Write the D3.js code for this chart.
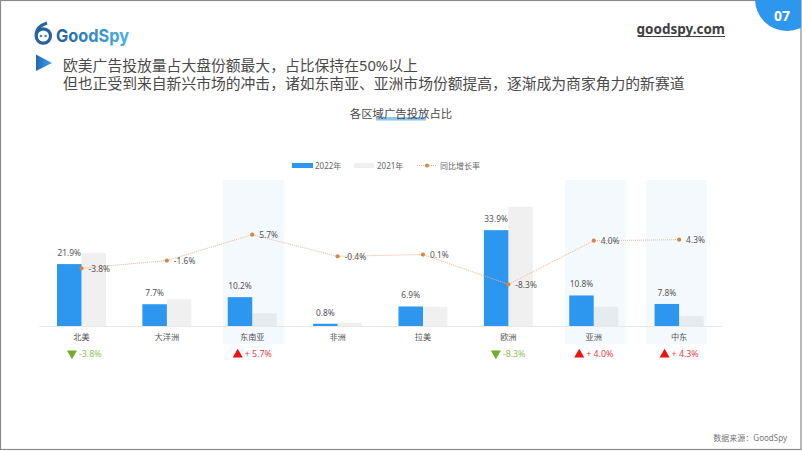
<!DOCTYPE html>
<html>
<head>
<meta charset="utf-8">
<script src="https://cdn.jsdelivr.net/npm/d3@7"></script>
<style>
html, body { margin: 0; padding: 0; background: #fff; }
svg { display: block; }
text { font-family: "Noto Sans", "Noto Sans CJK SC", sans-serif; }
</style>
</head>
<body>
<svg id="chart"></svg>
<script>
var categories = ['北美', '大洋洲', '东南亚', '非洲', '拉美', '欧洲', '亚洲', '中东'];
var values2022 = [21.9, 7.7, 10.2, 0.8, 6.9, 33.9, 10.8, 7.8];
var values2021 = [25.8, 9.5, 4.5, 1.2, 6.8, 42.2, 6.8, 3.5];
var growth = [-3.8, -1.6, 5.7, -0.4, 0.1, -8.3, 4.0, 4.3];
var highlighted = ['东南亚', '亚洲', '中东'];
var flagged = ['北美', '东南亚', '欧洲', '亚洲', '中东'];
var headline = ['欧美广告投放量占大盘份额最大，占比保持在50%以上', '但也正受到来自新兴市场的冲击，诸如东南亚、亚洲市场份额提高，逐渐成为商家角力的新赛道'];

var svgWidth = 802, svgHeight = 451;
var svg = d3.select('#chart').attr('width', svgWidth).attr('height', svgHeight);

var defs = svg.append('defs');
var logoGrad = defs.append('linearGradient').attr('id', 'logoGrad');
logoGrad.append('stop').attr('offset', '0%').attr('stop-color', '#22609f');
logoGrad.append('stop').attr('offset', '100%').attr('stop-color', '#45b4e6');
var playGrad = defs.append('linearGradient').attr('id', 'playGrad');
playGrad.append('stop').attr('offset', '0%').attr('stop-color', '#2068b4');
playGrad.append('stop').attr('offset', '100%').attr('stop-color', '#3ba4f0');

// page frame
svg.append('rect').attr('x', 0.5).attr('y', 0.5).attr('width', svgWidth - 1.5).attr('height', svgHeight - 2)
    .attr('fill', 'none').attr('stroke', '#8a8a8a').attr('stroke-width', 1.2);

// page number badge
svg.append('clipPath').attr('id', 'pageClip').append('rect').attr('width', svgWidth - 1).attr('height', svgHeight);
svg.append('circle').attr('cx', 787).attr('cy', -1).attr('r', 32).attr('fill', '#2d96ee').attr('clip-path', 'url(#pageClip)');
svg.append('text').attr('x', 782).attr('y', 21).attr('text-anchor', 'middle')
    .attr('font-size', 14).attr('font-weight', 700).attr('fill', '#fff').text('07');

// logo
var logo = svg.append('g');
logo.append('circle').attr('cx', 43.3).attr('cy', 36).attr('r', 7.2)
    .attr('fill', 'none').attr('stroke', '#24639f').attr('stroke-width', 3.2);
logo.append('path').attr('d', 'M36.2 34 C36.5 29 41 25 47 23')
    .attr('fill', 'none').attr('stroke', '#24639f').attr('stroke-width', 3.2);
logo.append('circle').attr('cx', 41).attr('cy', 36).attr('r', 1.3).attr('fill', '#3d8ac6');
logo.append('circle').attr('cx', 45.6).attr('cy', 36).attr('r', 1.3).attr('fill', '#3d8ac6');
logo.append('text').attr('x', 56).attr('y', 41.5).attr('font-size', 18).attr('font-weight', 700)
    .attr('textLength', 73).attr('lengthAdjust', 'spacingAndGlyphs')
    .attr('fill', 'url(#logoGrad)').style('font-family', 'Inter, "Noto Sans"').text('GoodSpy');

svg.append('text').attr('x', 725).attr('y', 34).attr('text-anchor', 'end')
    .attr('font-size', 13.5).attr('font-weight', 700).attr('fill', '#404040').text('goodspy.com');
svg.append('rect').attr('x', 638).attr('y', 36).attr('width', 87).attr('height', 1).attr('fill', '#404040');

// headline
svg.append('path').attr('d', 'M36 54.5 L52 63 L36 71 Z').attr('fill', 'url(#playGrad)');
svg.selectAll('.headline').data(headline).enter().append('text')
    .attr('class', 'headline')
    .attr('x', 63).attr('y', function(d, i) { return 70.5 + i * 18.5; })
    .attr('font-size', 14.8).attr('fill', '#4a4a4a').text(function(d) { return d; });

// chart title
svg.append('rect').attr('x', 376).attr('y', 117).attr('width', 50).attr('height', 3.5).attr('fill', '#8cc4f2');
svg.append('text').attr('x', 401).attr('y', 118).attr('text-anchor', 'middle')
    .attr('font-size', 11.4).attr('fill', '#4a4a4a').text('各区域广告投放占比');

// scales
var x = d3.scaleBand().domain(categories).range([38.8, 721.8]).padding(0);
var y = d3.scaleLinear().domain([0, 42.2]).range([326, 206.7]);
var yGrowth = d3.scaleLinear().domain([-8.3, 5.7]).range([284.3, 234.7]);
var barWidth = x.bandwidth() * 0.287;
function cx(d) { return x(d) + x.bandwidth() / 2; }

// highlight panels, the last one sits a bit left of its band
svg.selectAll('.panel').data(highlighted).enter().append('rect')
    .attr('class', 'panel')
    .attr('x', function(d) { return cx(d) + (d === '中东' ? -33.5 : -29); })
    .attr('y', 180).attr('width', 61).attr('height', 164).attr('fill', '#f4f9fd');

// bars
svg.selectAll('.bar2021').data(categories).enter().append('rect')
    .attr('class', 'bar2021')
    .attr('x', function(d) { return cx(d); })
    .attr('y', function(d, i) { return y(values2021[i]); })
    .attr('width', barWidth)
    .attr('height', function(d, i) { return y(0) - y(values2021[i]); })
    .attr('fill', function(d) { return highlighted.indexOf(d) >= 0 ? '#e6ebef' : '#f0f0f0'; });
svg.selectAll('.bar2022').data(categories).enter().append('rect')
    .attr('class', 'bar2022')
    .attr('x', function(d) { return cx(d) - barWidth; })
    .attr('y', function(d, i) { return y(values2022[i]); })
    .attr('width', barWidth)
    .attr('height', function(d, i) { return y(0) - y(values2022[i]); })
    .attr('fill', '#2d96ee');

svg.selectAll('.barLabel').data(categories).enter().append('text')
    .attr('class', 'barLabel')
    .attr('x', function(d) { return cx(d) - barWidth / 2; })
    .attr('y', function(d, i) { return y(values2022[i]) - 8; })
    .attr('text-anchor', 'middle').attr('font-size', 8.4).attr('fill', '#555')
    .text(function(d, i) { return values2022[i].toFixed(1) + '%'; });

// category axis
var axis = svg.append('g').attr('transform', 'translate(0,326)')
    .call(d3.axisBottom(x).tickSize(0).tickPadding(8));
axis.select('.domain').attr('stroke', '#e8e8e8').attr('stroke-width', 1.2);
axis.selectAll('text').attr('font-size', 8.2).attr('fill', '#555')
    .style('font-family', '"Noto Sans CJK SC", sans-serif');

// growth line
var line = d3.line().x(function(d) { return cx(d); }).y(function(d, i) { return yGrowth(growth[i]); });
svg.append('path').datum(categories).attr('d', line).attr('fill', 'none')
    .attr('stroke', '#eeb48c').attr('stroke-width', 1).attr('stroke-dasharray', '1 1');
svg.selectAll('.dot').data(categories).enter().append('circle')
    .attr('class', 'dot')
    .attr('cx', function(d) { return cx(d); })
    .attr('cy', function(d, i) { return yGrowth(growth[i]); })
    .attr('r', 2.1).attr('fill', '#dc8444');
svg.selectAll('.growthLabel').data(categories).enter().append('text')
    .attr('class', 'growthLabel')
    .attr('x', function(d) { return cx(d) + 7; })
    .attr('y', function(d, i) { return yGrowth(growth[i]) + 3.5; })
    .attr('font-size', 8.4).attr('fill', '#555')
    .text(function(d, i) { return growth[i].toFixed(1) + '%'; });

// change markers under the axis, only some regions have them
function growthOf(d) { return growth[categories.indexOf(d)]; }
function textShift(d) {
    if (growthOf(d) >= 0) return -7.5;
    return d === '欧洲' ? -5.5 : -2.5;
}
var tri = d3.symbol().type(d3.symbolTriangle).size(44);
svg.selectAll('.marker').data(flagged).enter().append('path')
    .attr('class', 'marker')
    .attr('d', tri)
    .attr('transform', function(d) {
        var down = growthOf(d) < 0;
        return 'translate(' + (cx(d) + textShift(d) - 7) + ',' + (down ? 353.5 : 354.5) + ') rotate(' + (down ? 180 : 0) + ')';
    })
    .attr('fill', function(d) { return growthOf(d) < 0 ? '#72ac2e' : '#ee1111'; });
svg.selectAll('.change').data(flagged).enter().append('text')
    .attr('class', 'change')
    .attr('x', function(d) { return cx(d) + textShift(d); })
    .attr('y', 357)
    .attr('font-size', 8.8)
    .attr('fill', function(d) { return growthOf(d) < 0 ? '#8fc050' : '#e8404c'; })
    .text(function(d) { return (growthOf(d) < 0 ? '' : '+ ') + growthOf(d).toFixed(1) + '%'; });

// legend
svg.append('rect').attr('x', 292).attr('y', 163).attr('width', 21).attr('height', 5).attr('fill', '#2d96ee');
svg.append('text').attr('x', 315).attr('y', 168.5).attr('font-size', 8).attr('fill', '#666').text('2022年');
svg.append('rect').attr('x', 354).attr('y', 163).attr('width', 20).attr('height', 5).attr('fill', '#f0f0f0');
svg.append('text').attr('x', 377).attr('y', 168.5).attr('font-size', 8).attr('fill', '#666').text('2021年');
svg.append('line').attr('x1', 417).attr('x2', 437).attr('y1', 165.5).attr('y2', 165.5)
    .attr('stroke', '#eeb48c').attr('stroke-width', 1).attr('stroke-dasharray', '1 1');
svg.append('circle').attr('cx', 427).attr('cy', 165.5).attr('r', 2).attr('fill', '#dc8444');
svg.append('text').attr('x', 440).attr('y', 168.5).attr('font-size', 8).attr('fill', '#666').text('同比增长率');

// source
svg.append('text').attr('x', 787).attr('y', 441).attr('text-anchor', 'end')
    .attr('font-size', 8).attr('fill', '#777').text('数据来源：GoodSpy');
</script>
</body>
</html>
